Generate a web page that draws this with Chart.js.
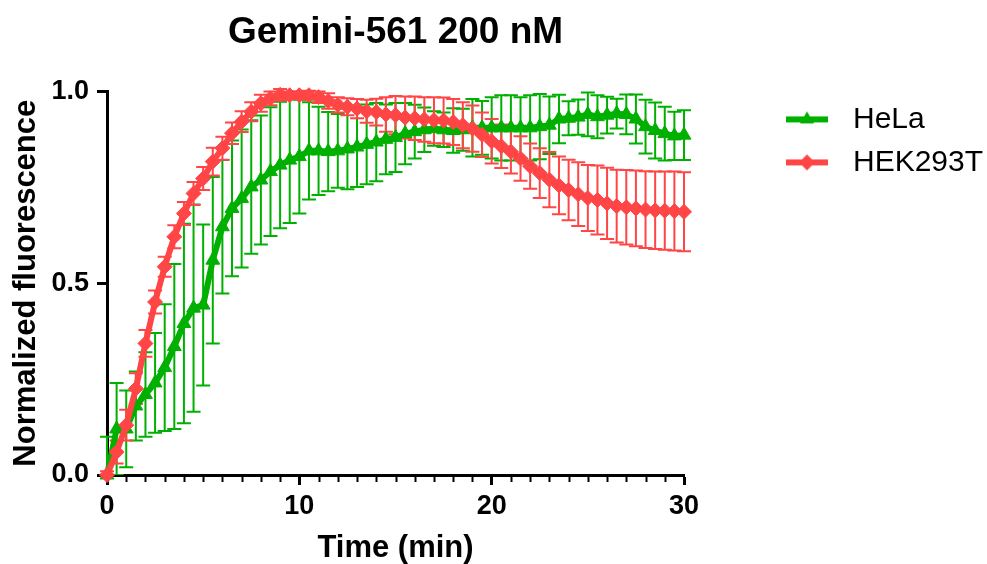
<!DOCTYPE html>
<html>
<head>
<meta charset="utf-8">
<script src="https://cdn.jsdelivr.net/npm/chart.js@4"></script>
<style>
    html, body { margin: 0; padding: 0; background: #fff; }
</style>
</head>
<body>
<canvas id="graficoFluorescencia" width="987" height="564"></canvas>
<script>
// =========================================
// 1. DADOS
// =========================================
const tempos = [0, 0.5, 1, 1.5, 2, 2.5, 3, 3.5, 4, 4.5,
    5, 5.5, 6, 6.5, 7, 7.5, 8, 8.5, 9, 9.5,
    10, 10.5, 11, 11.5, 12, 12.5, 13, 13.5, 14, 14.5,
    15, 15.5, 16, 16.5, 17, 17.5, 18, 18.5, 19, 19.5,
    20, 20.5, 21, 21.5, 22, 22.5, 23, 23.5, 24, 24.5,
    25, 25.5, 26, 26.5, 27, 27.5, 28, 28.5, 29, 29.5,
    30];

// HeLa: média e desvio
const helaMedia = [0, 0.12, 0.12, 0.18, 0.21, 0.24, 0.28, 0.335, 0.395, 0.435,
    0.443, 0.56, 0.647, 0.695, 0.721, 0.751, 0.769, 0.791, 0.808, 0.821,
    0.83, 0.845, 0.845, 0.843, 0.845, 0.85, 0.855, 0.862, 0.868, 0.875,
    0.88, 0.89, 0.895, 0.9, 0.903, 0.9, 0.898, 0.9, 0.905, 0.905,
    0.905, 0.905, 0.905, 0.905, 0.905, 0.908, 0.912, 0.928, 0.93, 0.933,
    0.94, 0.934, 0.938, 0.942, 0.94, 0.928, 0.908, 0.898, 0.89, 0.884,
    0.886];
const helaDesvio = [0.1, 0.12, 0.1, 0.09, 0.11, 0.13, 0.165, 0.215, 0.26, 0.27,
    0.21, 0.217, 0.174, 0.177, 0.18, 0.174, 0.168, 0.168, 0.165, 0.164,
    0.148, 0.127, 0.115, 0.103, 0.096, 0.105, 0.104, 0.104, 0.102, 0.091,
    0.09, 0.08, 0.07, 0.058, 0.045, 0.045, 0.058, 0.055, 0.075, 0.07,
    0.08, 0.085, 0.085, 0.08, 0.085, 0.085, 0.075, 0.063, 0.044, 0.046,
    0.057, 0.056, 0.048, 0.039, 0.052, 0.064, 0.07, 0.073, 0.07, 0.063,
    0.065];

// HEK293T: média e desvio
const hekMedia = [0, 0.06, 0.13, 0.225, 0.343, 0.451, 0.543, 0.621, 0.682, 0.734,
    0.773, 0.817, 0.852, 0.891, 0.921, 0.947, 0.969, 0.982, 0.991, 0.99,
    0.99, 0.99, 0.985, 0.975, 0.965, 0.96, 0.955, 0.948, 0.946, 0.94,
    0.938, 0.932, 0.93, 0.927, 0.925, 0.924, 0.92, 0.912, 0.903, 0.887,
    0.87, 0.857, 0.843, 0.825, 0.805, 0.787, 0.77, 0.755, 0.743, 0.732,
    0.722, 0.717, 0.708, 0.701, 0.698, 0.695, 0.692, 0.69, 0.689, 0.688,
    0.686];
const hekDesvio = [0.01, 0.03, 0.04, 0.04, 0.035, 0.03, 0.026, 0.03, 0.03, 0.03,
    0.03, 0.036, 0.03, 0.028, 0.027, 0.025, 0.022, 0.018, 0.015, 0.01,
    0.01, 0.012, 0.015, 0.02, 0.02, 0.022, 0.025, 0.03, 0.035, 0.045,
    0.05, 0.055, 0.057, 0.058, 0.06, 0.06, 0.06, 0.06, 0.06, 0.058,
    0.058, 0.057, 0.057, 0.058, 0.059, 0.065, 0.072, 0.075, 0.079, 0.083,
    0.086, 0.09, 0.093, 0.095, 0.097, 0.099, 0.1, 0.101, 0.102, 0.103,
    0.103];

const ticksY = [0, 0.5, 1.0];

const VERDE = '#00b000';
const VERMELHO = '#ff4545';
const FONTE = "'Liberation Sans', Arial, sans-serif";

// =========================================
// 2. PLUGINS: BARRAS DE ERRO E TICKS MENORES
// =========================================
const barrasErro = {
    id: 'barrasErro',
    beforeDatasetsDraw(chart) {
        const g = chart.ctx;
        const sx = chart.scales.x;
        const sy = chart.scales.y;
        const area = chart.chartArea;
        g.save();
        // corta o que passa abaixo do eixo x
        g.beginPath();
        g.rect(0, 0, chart.width, area.bottom);
        g.clip();
        chart.data.datasets.forEach((ds) => {
            g.strokeStyle = ds.borderColor;
            g.lineWidth = 2;
            ds.data.forEach((p, i) => {
                const dp = ds.desvios[i];
                const px = sx.getPixelForValue(p.x);
                const yCima = sy.getPixelForValue(p.y + dp);
                const yBaixo = sy.getPixelForValue(p.y - dp);
                g.beginPath();
                g.moveTo(px, yCima); g.lineTo(px, yBaixo);
                g.moveTo(px - 7, yCima); g.lineTo(px + 7, yCima);
                g.moveTo(px - 7, yBaixo); g.lineTo(px + 7, yBaixo);
                g.stroke();
            });
        });
        g.restore();
    }
};

const ticksMenores = {
    id: 'ticksMenores',
    afterDraw(chart) {
        const sx = chart.scales.x;
        const g = chart.ctx;
        const base = chart.chartArea.bottom;
        g.save();
        g.strokeStyle = '#000';
        g.lineWidth = 2;
        for (let v = sx.min; v <= sx.max; v += 1) {
            if (v % 10 === 0) continue;
            const px = Math.round(sx.getPixelForValue(v)) + 0.5;
            g.beginPath();
            g.moveTo(px, base);
            g.lineTo(px, base + 7);
            g.stroke();
        }
        g.restore();
    }
};

// ícone da legenda: linha com o marcador no meio
function iconeLegenda(cor, forma) {
    const c = document.createElement('canvas');
    c.width = 141; c.height = 22;
    const g = c.getContext('2d');
    g.strokeStyle = cor; g.fillStyle = cor; g.lineWidth = 6;
    g.beginPath(); g.moveTo(89, 11); g.lineTo(131, 11); g.stroke();
    const cx = 110, cy = 11, r = 8;
    g.beginPath();
    if (forma === 'triangle') {
        g.moveTo(cx, cy - r); g.lineTo(cx + r * 0.87, cy + r * 0.5); g.lineTo(cx - r * 0.87, cy + r * 0.5);
    } else {
        g.moveTo(cx, cy - r); g.lineTo(cx + r, cy); g.lineTo(cx, cy + r); g.lineTo(cx - r, cy);
    }
    g.closePath(); g.fill();
    return c;
}
const icones = [iconeLegenda(VERDE, 'triangle'), iconeLegenda(VERMELHO, 'diamond')];

// =========================================
// 3. GRÁFICO
// =========================================
const pontos = (medias) => tempos.map((t, i) => ({ x: t, y: medias[i] }));

Chart.defaults.font.family = FONTE;
Chart.defaults.color = '#000';

const ctx = document.getElementById('graficoFluorescencia').getContext('2d');
const grafico = new Chart(ctx, {
    type: 'line',
    data: {
        datasets: [{
            label: 'HeLa',
            data: pontos(helaMedia),
            desvios: helaDesvio,
            borderColor: VERDE,
            backgroundColor: VERDE,
            borderWidth: 6,
            pointStyle: 'triangle',
            pointRadius: 8,
            pointBorderWidth: 1,
            tension: 0,
            clip: false,
            order: 2
        }, {
            label: 'HEK293T',
            data: pontos(hekMedia),
            desvios: hekDesvio,
            borderColor: VERMELHO,
            backgroundColor: VERMELHO,
            borderWidth: 6,
            pointStyle: 'rectRot',
            pointRadius: 7.5,
            pointBorderWidth: 1,
            tension: 0,
            clip: false,
            order: 1
        }]
    },
    options: {
        responsive: false,
        animation: false,
        layout: { padding: 0 },
        plugins: {
            tooltip: { enabled: false },
            title: {
                display: true,
                text: 'Gemini-561 200 nM',
                fullSize: false,
                font: { size: 37, weight: 'bold', lineHeight: 1.2 },
                padding: { top: 11, bottom: 36 },
                color: '#000'
            },
            legend: {
                position: 'right',
                align: 'start',
                fullSize: false,
                maxWidth: 303,
                labels: {
                    usePointStyle: true,
                    pointStyleWidth: 141,
                    padding: 13,
                    color: '#000',
                    font: { size: 30 },
                    sort: (a, b) => a.datasetIndex - b.datasetIndex,
                    generateLabels(chart) {
                        const itens = Chart.defaults.plugins.legend.labels.generateLabels(chart);
                        itens.forEach(it => { it.pointStyle = icones[it.datasetIndex]; });
                        return itens;
                    }
                }
            }
        },
        scales: {
            x: {
                type: 'linear',
                min: 0,
                max: 30,
                afterFit: (s) => { s.height = 89; },
                ticks: { stepSize: 10, padding: 5, font: { size: 27, weight: 'bold' }, color: '#000' },
                grid: { drawOnChartArea: false, drawTicks: true, tickLength: 10, tickWidth: 3, tickColor: '#000' },
                border: { display: true, color: '#000', width: 3 },
                title: {
                    display: true,
                    text: 'Time (min)',
                    font: { size: 31, weight: 'bold', lineHeight: 1 },
                    padding: { top: 0, bottom: 0 },
                    color: '#000'
                }
            },
            y: {
                min: 0,
                max: 1,
                afterFit: (s) => { s.width = 107; },
                afterBuildTicks: (s) => { s.ticks = ticksY.map(v => ({ value: v })); },
                ticks: {
                    padding: 8,
                    font: { size: 27, weight: 'bold' },
                    color: '#000',
                    callback: (v) => Number(v).toFixed(1)
                },
                grid: { drawOnChartArea: false, drawTicks: true, tickLength: 10, tickWidth: 3, tickColor: '#000' },
                border: { display: true, color: '#000', width: 3 },
                title: {
                    display: true,
                    text: 'Normalized fluorescence',
                    font: { size: 31, weight: 'bold', lineHeight: 1 },
                    padding: { top: 11, bottom: 0 },
                    color: '#000'
                }
            }
        }
    },
    plugins: [barrasErro, ticksMenores]
});
</script>
</body>
</html>
